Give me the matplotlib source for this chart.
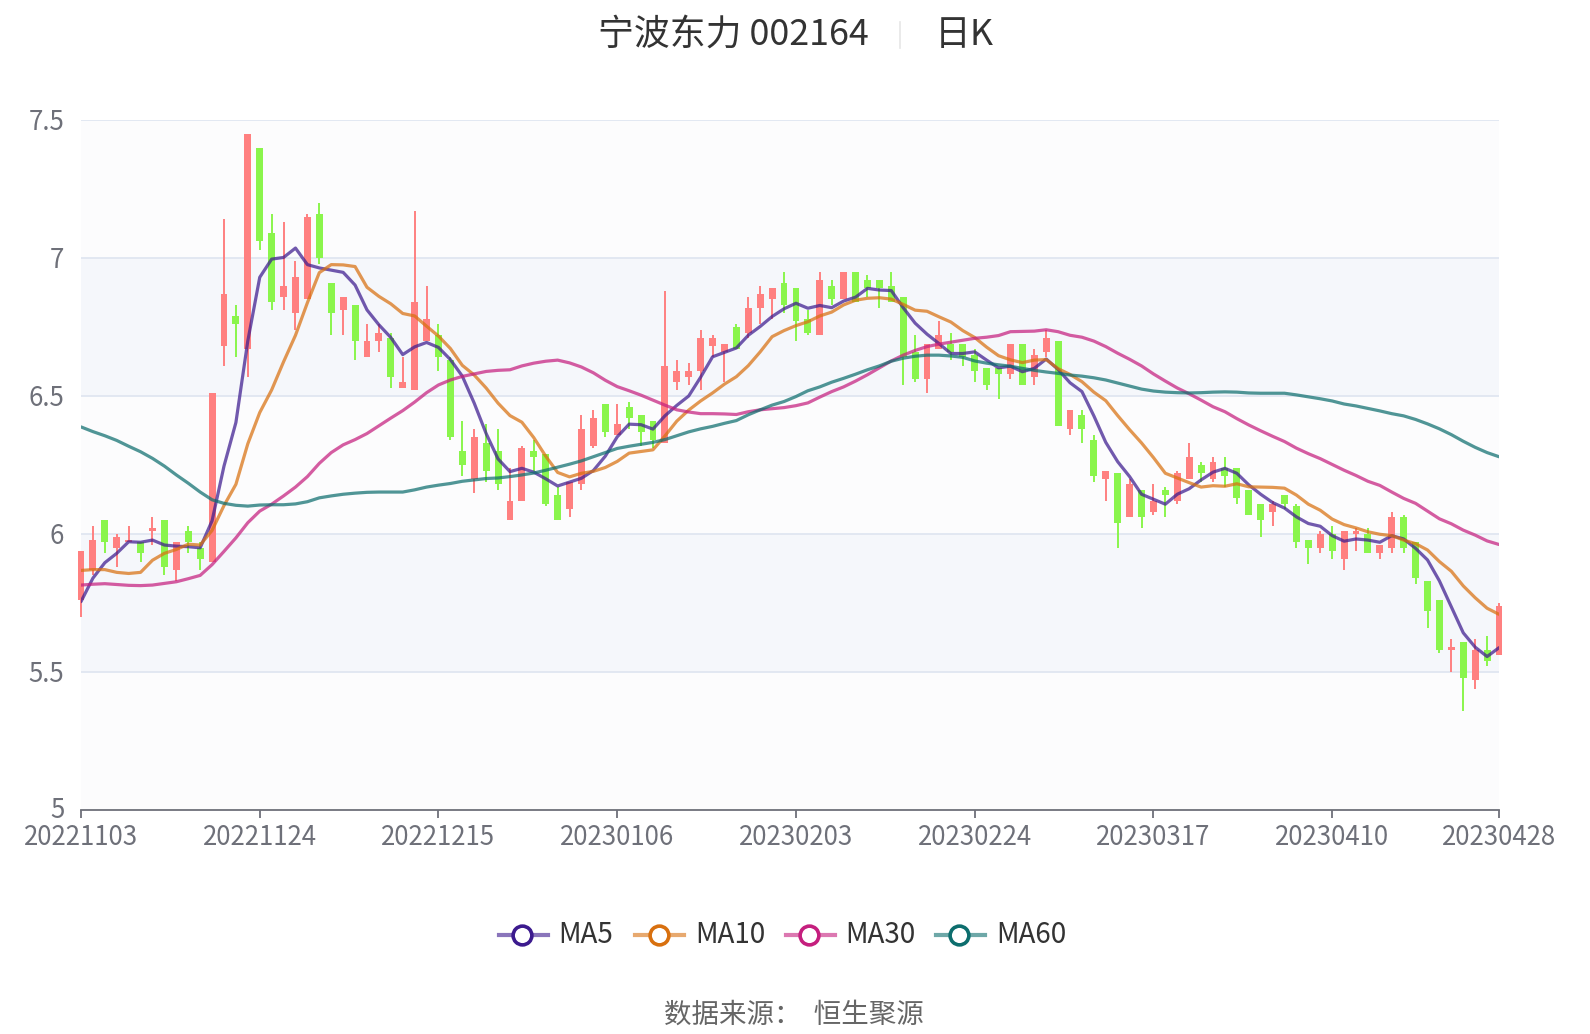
import matplotlib
matplotlib.use("Agg")
import matplotlib.pyplot as plt
import matplotlib.transforms as mtransforms
from matplotlib.lines import Line2D
import numpy as np

plt.rcParams['font.family'] = ['Noto Sans CJK SC', 'DejaVu Sans']

# daily K data, 2022-11-03 .. 2023-04-28
opens = [5.76, 5.87, 6.05, 5.95, 5.97, 5.97, 6.01, 6.05, 5.87, 6.01,
         5.95, 5.90, 6.68, 6.79, 6.67, 7.40, 7.09, 6.86, 6.80, 6.85,
         7.16, 6.91, 6.81, 6.83, 6.64, 6.70, 6.71, 6.53, 6.52, 6.70,
         6.72, 6.63, 6.30, 6.20, 6.33, 6.30, 6.05, 6.12, 6.30, 6.29,
         6.14, 6.09, 6.18, 6.32, 6.47, 6.36, 6.46, 6.43, 6.41, 6.33,
         6.55, 6.57, 6.59, 6.68, 6.66, 6.75, 6.73, 6.82, 6.85, 6.91,
         6.89, 6.78, 6.72, 6.90, 6.85, 6.95, 6.92, 6.92, 6.90, 6.86,
         6.66, 6.56, 6.67, 6.69, 6.69, 6.65, 6.60, 6.60, 6.58, 6.69,
         6.57, 6.66, 6.70, 6.38, 6.43, 6.34, 6.20, 6.22, 6.06, 6.16,
         6.08, 6.16, 6.12, 6.20, 6.25, 6.20, 6.24, 6.24, 6.16, 6.11,
         6.08, 6.14, 6.10, 5.98, 5.95, 6.00, 5.91, 6.00, 6.00, 5.93,
         5.95, 6.06, 5.97, 5.83, 5.76, 5.58, 5.61, 5.47, 5.58, 5.56]
highs = [5.94, 6.03, 6.05, 6.00, 6.03, 5.97, 6.06, 6.05, 5.97, 6.03,
         5.97, 6.51, 7.14, 6.83, 7.45, 7.40, 7.16, 7.13, 6.99, 7.16,
         7.20, 6.91, 6.86, 6.83, 6.76, 6.76, 6.73, 6.64, 7.17, 6.90,
         6.76, 6.64, 6.41, 6.38, 6.40, 6.38, 6.24, 6.32, 6.34, 6.29,
         6.17, 6.19, 6.43, 6.45, 6.47, 6.47, 6.48, 6.43, 6.41, 6.88,
         6.63, 6.62, 6.74, 6.72, 6.69, 6.76, 6.86, 6.90, 6.89, 6.95,
         6.89, 6.81, 6.95, 6.92, 6.95, 6.95, 6.94, 6.92, 6.95, 6.86,
         6.72, 6.69, 6.77, 6.73, 6.69, 6.67, 6.60, 6.60, 6.69, 6.69,
         6.67, 6.74, 6.70, 6.45, 6.45, 6.36, 6.23, 6.22, 6.20, 6.16,
         6.18, 6.17, 6.23, 6.33, 6.26, 6.28, 6.28, 6.24, 6.16, 6.11,
         6.12, 6.14, 6.11, 5.98, 6.01, 6.03, 6.01, 6.02, 6.02, 5.96,
         6.08, 6.07, 5.97, 5.83, 5.76, 5.62, 5.61, 5.62, 5.63, 5.75]
lows = [5.70, 5.85, 5.93, 5.88, 5.97, 5.90, 5.96, 5.85, 5.83, 5.93,
        5.87, 5.90, 6.61, 6.64, 6.57, 7.03, 6.81, 6.81, 6.74, 6.85,
        6.98, 6.72, 6.72, 6.63, 6.64, 6.66, 6.53, 6.53, 6.52, 6.70,
        6.59, 6.34, 6.21, 6.15, 6.19, 6.16, 6.05, 6.12, 6.23, 6.10,
        6.05, 6.06, 6.16, 6.31, 6.35, 6.36, 6.38, 6.32, 6.31, 6.33,
        6.52, 6.54, 6.52, 6.64, 6.55, 6.67, 6.71, 6.76, 6.78, 6.80,
        6.70, 6.72, 6.72, 6.83, 6.85, 6.84, 6.86, 6.82, 6.84, 6.54,
        6.55, 6.51, 6.67, 6.63, 6.61, 6.55, 6.52, 6.49, 6.56, 6.54,
        6.54, 6.64, 6.39, 6.36, 6.33, 6.19, 6.12, 5.95, 6.06, 6.02,
        6.07, 6.06, 6.11, 6.20, 6.19, 6.19, 6.17, 6.11, 6.07, 5.99,
        6.03, 6.09, 5.95, 5.89, 5.93, 5.91, 5.87, 5.94, 5.93, 5.91,
        5.93, 5.93, 5.82, 5.66, 5.57, 5.50, 5.36, 5.44, 5.52, 5.56]
closes = [5.94, 5.98, 5.97, 5.99, 5.98, 5.93, 6.02, 5.88, 5.97, 5.97,
          5.91, 6.51, 6.87, 6.76, 7.45, 7.06, 6.84, 6.90, 6.93, 7.15,
          7.00, 6.80, 6.86, 6.70, 6.70, 6.73, 6.57, 6.55, 6.84, 6.78,
          6.64, 6.35, 6.25, 6.35, 6.23, 6.18, 6.12, 6.31, 6.28, 6.11,
          6.05, 6.19, 6.38, 6.42, 6.37, 6.40, 6.42, 6.37, 6.34, 6.61,
          6.59, 6.59, 6.71, 6.71, 6.69, 6.67, 6.82, 6.87, 6.89, 6.83,
          6.77, 6.73, 6.92, 6.85, 6.95, 6.84, 6.89, 6.89, 6.84, 6.64,
          6.56, 6.69, 6.72, 6.66, 6.64, 6.59, 6.54, 6.58, 6.69, 6.54,
          6.65, 6.71, 6.39, 6.45, 6.38, 6.21, 6.23, 6.04, 6.18, 6.06,
          6.12, 6.14, 6.22, 6.28, 6.22, 6.26, 6.21, 6.13, 6.07, 6.05,
          6.11, 6.11, 5.97, 5.95, 6.00, 5.94, 6.01, 6.01, 5.93, 5.96,
          6.06, 5.95, 5.84, 5.72, 5.58, 5.59, 5.48, 5.58, 5.54, 5.74]

ma5 = [5.755, 5.84, 5.896, 5.93, 5.972, 5.970, 5.978, 5.960, 5.956, 5.954,
       5.950, 6.048, 6.246, 6.404, 6.700, 6.930, 6.996, 7.002, 7.036, 6.976,
       6.964, 6.956, 6.948, 6.902, 6.812, 6.758, 6.712, 6.650, 6.678, 6.694,
       6.676, 6.632, 6.572, 6.474, 6.364, 6.272, 6.226, 6.238, 6.224, 6.200,
       6.174, 6.188, 6.202, 6.230, 6.282, 6.352, 6.398, 6.396, 6.380, 6.428,
       6.466, 6.500, 6.568, 6.642, 6.658, 6.674, 6.720, 6.752, 6.788, 6.816,
       6.836, 6.818, 6.828, 6.820, 6.844, 6.858, 6.890, 6.884, 6.882, 6.820,
       6.764, 6.724, 6.690, 6.654, 6.654, 6.660, 6.630, 6.602, 6.608, 6.588,
       6.600, 6.634, 6.596, 6.548, 6.516, 6.428, 6.332, 6.262, 6.208, 6.144,
       6.126, 6.108, 6.144, 6.164, 6.196, 6.224, 6.238, 6.220, 6.178, 6.144,
       6.114, 6.094, 6.062, 6.038, 6.028, 5.994, 5.974, 5.982, 5.978, 5.970,
       5.994, 5.982, 5.948, 5.906, 5.830, 5.736, 5.642, 5.590, 5.556, 5.588]
ma10 = [5.868, 5.871, 5.871, 5.861, 5.857, 5.861, 5.905, 5.930, 5.944, 5.963,
        5.960, 6.013, 6.103, 6.180, 6.327, 6.440, 6.522, 6.624, 6.720, 6.838,
        6.947, 6.976, 6.975, 6.969, 6.894, 6.861, 6.834, 6.799, 6.790, 6.753,
        6.717, 6.672, 6.611, 6.576, 6.529, 6.474, 6.429, 6.405, 6.349, 6.282,
        6.223, 6.207, 6.220, 6.227, 6.241, 6.263, 6.293, 6.299, 6.305, 6.355,
        6.409, 6.449, 6.482, 6.511, 6.543, 6.570, 6.610, 6.660, 6.715, 6.737,
        6.755, 6.769, 6.790, 6.804, 6.830, 6.847, 6.854, 6.856, 6.851, 6.832,
        6.811, 6.807, 6.787, 6.768, 6.737, 6.712, 6.677, 6.646, 6.631, 6.621,
        6.630, 6.632, 6.599, 6.578, 6.552, 6.514, 6.483, 6.429, 6.378, 6.330,
        6.277, 6.220, 6.203, 6.186, 6.170, 6.175, 6.173, 6.182, 6.171, 6.170,
        6.169, 6.166, 6.141, 6.108, 6.086, 6.054, 6.034, 6.022, 6.008, 5.999,
        5.994, 5.978, 5.965, 5.942, 5.900, 5.865, 5.812, 5.769, 5.731, 5.709]
ma30 = [5.815, 5.818, 5.820, 5.817, 5.814, 5.813, 5.815, 5.821, 5.827, 5.838,
        5.850, 5.889, 5.937, 5.986, 6.041, 6.083, 6.108, 6.138, 6.170, 6.208,
        6.256, 6.295, 6.323, 6.342, 6.364, 6.392, 6.420, 6.447, 6.478, 6.512,
        6.540, 6.558, 6.571, 6.580, 6.589, 6.593, 6.595, 6.609, 6.619, 6.626,
        6.630, 6.620, 6.605, 6.584, 6.557, 6.534, 6.519, 6.503, 6.485, 6.467,
        6.450, 6.442, 6.436, 6.436, 6.435, 6.433, 6.443, 6.450, 6.454, 6.458,
        6.465, 6.475, 6.496, 6.516, 6.533, 6.554, 6.577, 6.602, 6.627, 6.648,
        6.665, 6.679, 6.688, 6.695, 6.702, 6.709, 6.713, 6.719, 6.733, 6.734,
        6.735, 6.740, 6.733, 6.720, 6.713, 6.699, 6.679, 6.655, 6.633, 6.609,
        6.580, 6.554, 6.529, 6.508, 6.485, 6.461, 6.443, 6.418, 6.395, 6.374,
        6.354, 6.335, 6.311, 6.291, 6.273, 6.252, 6.231, 6.212, 6.191, 6.176,
        6.152, 6.129, 6.111, 6.083, 6.055, 6.037, 6.014, 5.996, 5.975, 5.962]
ma60 = [6.388, 6.371, 6.356, 6.339, 6.318, 6.298, 6.274, 6.246, 6.214, 6.184,
        6.152, 6.124, 6.111, 6.104, 6.101, 6.105, 6.106, 6.106, 6.109, 6.117,
        6.131, 6.138, 6.144, 6.148, 6.151, 6.152, 6.152, 6.152, 6.160, 6.170,
        6.177, 6.183, 6.191, 6.196, 6.201, 6.203, 6.208, 6.214, 6.221, 6.231,
        6.242, 6.253, 6.265, 6.280, 6.295, 6.310, 6.318, 6.325, 6.332, 6.342,
        6.356, 6.370, 6.381, 6.390, 6.401, 6.411, 6.432, 6.450, 6.467, 6.480,
        6.498, 6.519, 6.533, 6.550, 6.564, 6.579, 6.595, 6.609, 6.626, 6.637,
        6.644, 6.648, 6.648, 6.645, 6.640, 6.627, 6.619, 6.613, 6.608, 6.600,
        6.593, 6.587, 6.582, 6.576, 6.572, 6.566, 6.558, 6.547, 6.536, 6.525,
        6.518, 6.514, 6.512, 6.511, 6.512, 6.514, 6.515, 6.514, 6.511, 6.510,
        6.510, 6.510, 6.504, 6.497, 6.490, 6.482, 6.471, 6.464, 6.455, 6.446,
        6.436, 6.428, 6.415, 6.399, 6.381, 6.360, 6.336, 6.314, 6.295, 6.280]

tick_idx = [0, 15, 30, 45, 60, 75, 90, 105, 119]
tick_labels = ["20221103", "20221124", "20221215", "20230106", "20230203",
               "20230224", "20230317", "20230410", "20230428"]
y_ticks = [5, 5.5, 6, 6.5, 7, 7.5]
y_labels = ["5", "5.5", "6", "6.5", "7", "7.5"]

ma_names = ["MA5", "MA10", "MA30", "MA60"]
ma_colors = ["#3c1a8e", "#d8700f", "#c51f7e", "#0d6e6e"]

RED = "#ff8080"
GREEN = "#8af54c"
W, H = 1590, 1034

fig = plt.figure(figsize=(W / 100, H / 100), dpi=100)
fig.patch.set_facecolor("white")
ax = fig.add_axes([81 / W, 1 - 810 / H, (1499 - 81) / W, (810 - 120) / H])
ax.set_facecolor("#fcfcfd")

# alternating bands + grid
for lo, hi in [(5.5, 6.0), (6.5, 7.0)]:
    ax.axhspan(lo, hi, color="#f5f7fb", zorder=0, lw=0)
for y in [5.5, 6, 6.5, 7, 7.5]:
    ax.axhline(y, color="#e0e6f1", lw=1.3, zorder=1)

o = np.array(opens)
c = np.array(closes)
x = np.arange(len(c))
cols = np.where(c >= o, RED, GREEN)
ax.vlines(x, lows, highs, colors=cols, lw=1.4, zorder=2, clip_on=False)
body_lo = np.minimum(o, c)
body_h = np.maximum(np.abs(c - o), 0.006)
ax.bar(x, body_h, bottom=body_lo, width=0.58, color=cols, zorder=2,
       linewidth=0, clip_on=False)

for vals, col in zip([ma5, ma10, ma30, ma60], ma_colors):
    ax.plot(x, vals, color=col, alpha=0.72, lw=2.3, zorder=3,
            solid_joinstyle="round", solid_capstyle="round")

ax.set_xlim(0, 119)
ax.set_ylim(5, 7.5)
for s in ["top", "right", "left"]:
    ax.spines[s].set_visible(False)
ax.spines["bottom"].set_color("#6e7079")
ax.spines["bottom"].set_linewidth(1.3)
ax.spines["bottom"].set_zorder(4)

ax.set_xticks(tick_idx)
ax.set_xticklabels(tick_labels)
ax.set_yticks(y_ticks)
ax.set_yticklabels(y_labels)
ax.tick_params(axis="x", length=6, width=1.3, color="#6e7079", labelsize=18.6,
               labelcolor="#6e7079", pad=3.8)
ax.tick_params(axis="y", length=0, labelsize=18.6, labelcolor="#6e7079", pad=12)

# lift the bottom "5" a little, as in the original
lbl5 = ax.get_yticklabels()[0]
lbl5.set_transform(lbl5.get_transform() +
                   mtransforms.ScaledTranslation(0, 3 / 100, fig.dpi_scale_trans))

# title
fig.text(598 / W, 1 - 35 / H, "宁波东力 002164", fontsize=25.8, color="#333333",
         ha="left", va="center")
fig.text(935 / W, 1 - 35 / H, "日K", fontsize=25.8, color="#333333",
         ha="left", va="center")
fig.add_artist(Line2D([900 / W, 900 / W], [1 - 22 / H, 1 - 48 / H],
                      transform=fig.transFigure, color="#e6e6e6", lw=1.2))

# legend
leg_pos = [(499, 522, 558), (635, 659, 695), (786, 809, 845), (936, 959, 996)]
ly = 1 - 935 / H
for (x0, cx, tx), name, col in zip(leg_pos, ma_names, ma_colors):
    fig.add_artist(Line2D([x0 / W, (x0 + 49) / W], [ly, ly], transform=fig.transFigure,
                          color=col, alpha=0.6, lw=3))
    fig.add_artist(Line2D([cx / W], [ly], transform=fig.transFigure, marker="o",
                          markersize=13.5, markerfacecolor="white",
                          markeredgecolor=col, markeredgewidth=2.6, lw=0))
    fig.text(tx / W, ly, name, fontsize=20, color="#333333", ha="left", va="center")

fig.text(794 / W, 1 - 1015 / H, "数据来源：  恒生聚源", fontsize=19.8, color="#666666",
         ha="center", va="center")

fig.savefig("out.png", dpi=100, facecolor="white")
